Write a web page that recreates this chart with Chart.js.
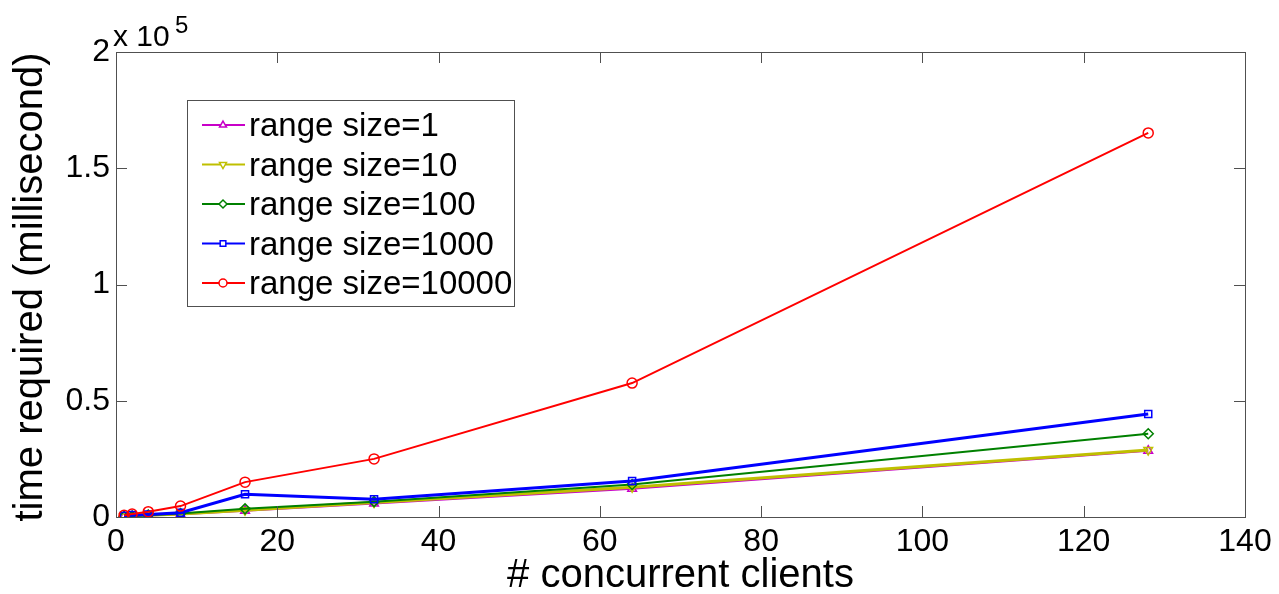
<!DOCTYPE html>
<html>
<head>
<meta charset="utf-8">
<script src="https://cdn.jsdelivr.net/npm/chart.js@4"></script>
<style>
  html, body { margin: 0; padding: 0; background: #fff; }
  canvas { display: block; }
</style>
</head>
<body>
<canvas id="timeChart" width="1279" height="594"></canvas>
<script>
// concurrent clients on the x axis
const clients = [1, 2, 4, 8, 16, 32, 64, 128]

// time required (ms) per range size
const rangeSize1 = [150, 300, 600, 1200, 2700, 5800, 12200, 28500]
const rangeSize10 = [180, 350, 700, 1300, 2900, 6200, 12800, 28800]
const rangeSize100 = [200, 400, 800, 1500, 3500, 6600, 14000, 35800]
const rangeSize1000 = [500, 800, 1100, 1800, 9800, 7600, 15500, 44300]
const rangeSize10000 = [700, 1300, 2300, 4700, 15000, 25000, 57600, 165200]

const seriesLabels = ['range size=1', 'range size=10', 'range size=100', 'range size=1000', 'range size=10000']
const xTicks = [0, 20, 40, 60, 80, 100, 120, 140]
const yTicks = [0, 50000, 100000, 150000, 200000]
const yTickLabels = ['0', '0.5', '1', '1.5', '2']

const MAGENTA = '#c800c8'
const YELLOW = '#bfbf00'
const GREEN = '#008000'
const BLUE = '#0000ff'
const RED = '#ff0000'

const FONT = 'Liberation Sans, Arial, sans-serif'
const AXIS_COLOR = '#505050'

function toPoints(values) {
    return clients.map((c, i) => ({x: c, y: values[i]}))
}

const styles = [
    {color: MAGENTA, marker: 'triangle', rotation: 0, width: 2, radius: 5},
    {color: YELLOW, marker: 'triangle', rotation: 180, width: 3, radius: 5},
    {color: GREEN, marker: 'rectRot', rotation: 0, width: 2, radius: 5},
    {color: BLUE, marker: 'rect', rotation: 0, width: 3, radius: 5},
    {color: RED, marker: 'circle', rotation: 0, width: 2, radius: 5},
]
const allValues = [rangeSize1, rangeSize10, rangeSize100, rangeSize1000, rangeSize10000]

const datasets = allValues.map((values, i) => ({
    label: seriesLabels[i],
    data: toPoints(values),
    borderColor: styles[i].color,
    backgroundColor: 'rgba(0,0,0,0)',
    borderWidth: styles[i].width,
    pointStyle: styles[i].marker,
    pointRotation: styles[i].rotation,
    pointRadius: styles[i].radius,
    pointBorderWidth: 1.5,
    pointBorderColor: styles[i].color,
    pointBackgroundColor: 'rgba(0,0,0,0)',
    tension: 0,
    order: 4 - i, // later series drawn on top, like matlab
}))

// frame, inward ticks, axis titles, exponent and boxed legend
const decorations = {
    id: 'decorations',
    afterDraw(chart) {
        const ctx = chart.ctx
        const a = chart.chartArea
        const xs = chart.scales.x
        const ys = chart.scales.y
        ctx.save()
        ctx.strokeStyle = AXIS_COLOR
        ctx.lineWidth = 1
        ctx.strokeRect(Math.round(a.left) + 0.5, Math.round(a.top) + 0.5,
            Math.round(a.right - a.left), Math.round(a.bottom - a.top))

        const tick = 11
        ctx.beginPath()
        xTicks.forEach(v => {
            const px = Math.round(xs.getPixelForValue(v)) + 0.5
            ctx.moveTo(px, a.bottom); ctx.lineTo(px, a.bottom - tick)
            ctx.moveTo(px, a.top); ctx.lineTo(px, a.top + tick)
        })
        yTicks.forEach(v => {
            const py = Math.round(ys.getPixelForValue(v)) + 0.5
            ctx.moveTo(a.left, py); ctx.lineTo(a.left + tick, py)
            ctx.moveTo(a.right, py); ctx.lineTo(a.right - tick, py)
        })
        ctx.stroke()

        ctx.fillStyle = '#000'
        // exponent label
        ctx.font = '30px ' + FONT
        ctx.textAlign = 'left'
        ctx.textBaseline = 'alphabetic'
        ctx.fillText('x 10', 113, 46)
        ctx.font = '24px ' + FONT
        ctx.fillText('5', 175, 33)

        // axis titles
        ctx.font = '40px ' + FONT
        ctx.textAlign = 'center'
        ctx.textBaseline = 'middle'
        ctx.fillText('# concurrent clients', (a.left + a.right) / 2, 576)
        ctx.save()
        ctx.translate(31, 287)
        ctx.rotate(-Math.PI / 2)
        ctx.fillText('time required (millisecond)', 0, 0)
        ctx.restore()

        // legend box
        const box = {x: 187, y: 100, w: 327, h: 206}
        ctx.fillStyle = '#fff'
        ctx.fillRect(box.x, box.y, box.w, box.h)
        ctx.strokeStyle = AXIS_COLOR
        ctx.strokeRect(box.x + 0.5, box.y + 0.5, box.w, box.h)
        ctx.font = '33px ' + FONT
        ctx.textAlign = 'left'
        ctx.textBaseline = 'middle'
        chart.data.datasets.forEach((ds, i) => {
            const cy = 125 + i * 39.5
            ctx.strokeStyle = ds.borderColor
            ctx.lineWidth = 2
            ctx.beginPath()
            ctx.moveTo(202, cy); ctx.lineTo(245, cy)
            ctx.stroke()
            ctx.lineWidth = 1.5
            ctx.fillStyle = '#fff'
            Chart.helpers.drawPoint(ctx, {
                pointStyle: ds.pointStyle,
                rotation: ds.pointRotation,
                radius: 4,
                borderWidth: 1.5,
            }, 223, cy)
            ctx.fillStyle = '#000'
            ctx.fillText(ds.label, 249, cy + 2)
        })
        ctx.restore()
    }
}

const config = {
    type: 'line',
    data: {datasets: datasets},
    options: {
        responsive: false,
        animation: false,
        layout: {padding: {top: 52, right: 34, left: 0, bottom: 0}},
        scales: {
            x: {
                type: 'linear',
                min: 0,
                max: 140,
                afterFit: scale => { scale.height = 77 },
                afterBuildTicks: scale => { scale.ticks = xTicks.map(v => ({value: v})) },
                grid: {display: false, drawTicks: false},
                border: {display: false},
                ticks: {
                    color: '#000',
                    padding: 6,
                    maxRotation: 0,
                    autoSkip: false,
                    font: {family: FONT, size: 32},
                },
            },
            y: {
                type: 'linear',
                min: 0,
                max: 200000,
                afterFit: scale => { scale.width = 116 },
                afterBuildTicks: scale => { scale.ticks = yTicks.map(v => ({value: v})) },
                grid: {display: false, drawTicks: false},
                border: {display: false},
                ticks: {
                    color: '#000',
                    padding: 6,
                    autoSkip: false,
                    font: {family: FONT, size: 32},
                    callback: function (value) {
                        const i = yTicks.indexOf(value)
                        return i >= 0 ? yTickLabels[i] : ''
                    },
                },
            },
        },
        plugins: {
            legend: {display: false},
            tooltip: {enabled: false},
        },
    },
    plugins: [decorations],
}

new Chart(document.getElementById('timeChart').getContext('2d'), config)
</script>
</body>
</html>
